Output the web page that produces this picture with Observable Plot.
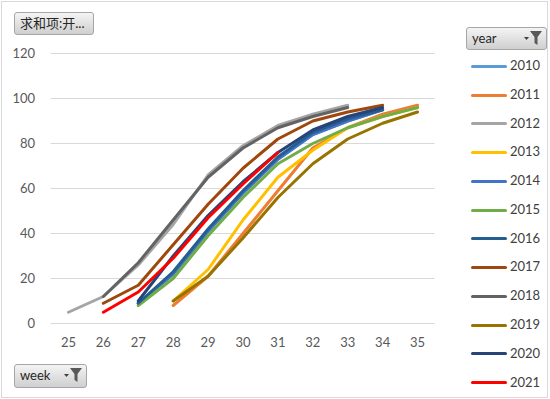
<!DOCTYPE html>
<html>
<head>
<meta charset="utf-8">
<script src="https://cdn.jsdelivr.net/npm/d3@7"></script>
<script src="https://cdn.jsdelivr.net/npm/@observablehq/plot@0.6"></script>
<style>
  html, body { margin: 0; padding: 0; background: #fff; }
  #wrap { position: relative; width: 550px; height: 399px; overflow: hidden; font-family: Lato, "Noto Sans CJK SC", sans-serif; }
  #wrap svg.plot { position: absolute; left: 0; top: 0; }
  .border { position: absolute; left: 1px; top: 1px; width: 545px; height: 395px; border: 1px solid #d9d9d9; pointer-events: none; }
  .btn { position: absolute; box-sizing: border-box; border: 1px solid #a6a6a6; border-radius: 3px;
         background: linear-gradient(#f4f4f4, #cfcfcf); color: #262626; font-size: 13px; line-height: 20px; padding-left: 5px; white-space: nowrap; }
  .btn svg { position: absolute; right: 3px; top: 2px; }
  .leg { position: absolute; left: 471px; font-size: 13px; color: #404040; }
  .leg .sw { position: absolute; left: 0; top: -1.5px; width: 36px; height: 3px; border-radius: 1.5px; }
  .leg .tx { position: absolute; left: 39px; top: -9px; }
</style>
</head>
<body>
<div id="wrap"></div>
<script>
const weeks = [25, 26, 27, 28, 29, 30, 31, 32, 33, 34, 35];
const years = [2010, 2011, 2012, 2013, 2014, 2015, 2016, 2017, 2018, 2019, 2020, 2021];
const colors = ["#5B9BD5", "#ED7D31", "#A5A5A5", "#FFC000", "#4472C4", "#70AD47", "#255E91", "#9E480E", "#636363", "#997300", "#264478", "#FF0000"];
const yTicks = [0, 20, 40, 60, 80, 100, 120];

const v2010 = [null, null, 9, 22, 41, 58, 73, 84, 90, 95, null];
const v2011 = [null, null, null, 8, 21, 40, 59, 78, 87, 93, 97];
const v2012 = [5, 12, 26, 44, 66, 79, 88, 93, 97, null, null];
const v2013 = [null, null, null, 10, 24, 46, 65, 77, 87, 92, 96];
const v2014 = [null, null, 9, 22, 41, 58, 73, 84, 90, 95, null];
const v2015 = [null, null, 8, 20, 39, 56, 71, 80, 87, 92, 96];
const v2016 = [null, null, 9, 23, 42, 59, 74, 85, 91, 95, null];
const v2017 = [null, 9, 17, 35, 53, 69, 82, 90, 94, 97, null];
const v2018 = [null, 12, 27, 46, 65, 78, 87, 92, 96, null, null];
const v2019 = [null, null, null, 10, 21, 38, 56, 71, 82, 89, 94];
const v2020 = [null, null, 10, 30, 48, 63, 76, 86, 92, 96, null];
const v2021 = [null, 5, 14, 29, 47, 62, 76, null, null, null, null];

const series = [v2010, v2011, v2012, v2013, v2014, v2015, v2016, v2017, v2018, v2019, v2020, v2021];
const rows = [];
years.forEach((yr, i) => {
  weeks.forEach((w, j) => {
    const v = series[i][j];
    if (v != null) rows.push({year: yr, week: w, value: v});
  });
});

const chart = Plot.plot({
  width: 550,
  height: 399,
  marginLeft: 50.5,
  marginRight: 115.5,
  marginTop: 53,
  marginBottom: 76,
  style: {fontFamily: "Lato, sans-serif", fontSize: "13px", color: "#595959", background: "transparent"},
  x: {type: "linear", domain: [weeks[0] - 0.5, weeks[weeks.length - 1] + 0.5]},
  y: {domain: [0, 120]},
  color: {domain: years, range: colors},
  marks: [
    Plot.ruleY(yTicks, {stroke: "#d9d9d9", strokeWidth: 1}),
    Plot.axisX({ticks: weeks, tickFormat: d => String(d), tickSize: 0, tickPadding: 14, label: null, fill: "#595959", fontSize: 13}),
    Plot.axisY({ticks: yTicks, tickSize: 0, tickPadding: 16, label: null, fill: "#595959", fontSize: 13}),
    Plot.line(rows, {x: "week", y: "value", z: "year", stroke: "year", strokeWidth: 3, strokeLinejoin: "round", strokeLinecap: "round"})
  ]
});
chart.classList.add("plot");
const wrap = document.getElementById("wrap");
wrap.appendChild(chart);

const border = document.createElement("div");
border.className = "border";
wrap.appendChild(border);

const funnel = `<svg width="20" height="16" viewBox="0 0 20 16"><path d="M1 7 L6 7 L3.5 10 Z" fill="#404040"/><path d="M7 1 L19 1 L14.5 7 L14.5 15 L11.5 13 L11.5 7 Z" fill="#595959"/></svg>`;

function addBtn(text, left, top, w, h, filter) {
  const b = document.createElement("div");
  b.className = "btn";
  b.style.left = left + "px";
  b.style.top = top + "px";
  b.style.width = w + "px";
  b.style.height = h + "px";
  b.innerHTML = `<span>${text}</span>` + (filter ? funnel : "");
  wrap.appendChild(b);
}
addBtn("求和项:开...", 14, 12, 80, 23, false);
addBtn("year", 466, 27, 81, 23, true);
addBtn("week", 14, 364, 73, 24, true);

const legY = [66, 95, 123.5, 152, 181, 210, 238.5, 267, 296, 325, 353.5, 382.5];
years.forEach((yr, i) => {
  const d = document.createElement("div");
  d.className = "leg";
  d.style.top = legY[i] + "px";
  d.innerHTML = `<div class="sw" style="background:${colors[i]}"></div><div class="tx">${yr}</div>`;
  wrap.appendChild(d);
});
</script>
</body>
</html>
